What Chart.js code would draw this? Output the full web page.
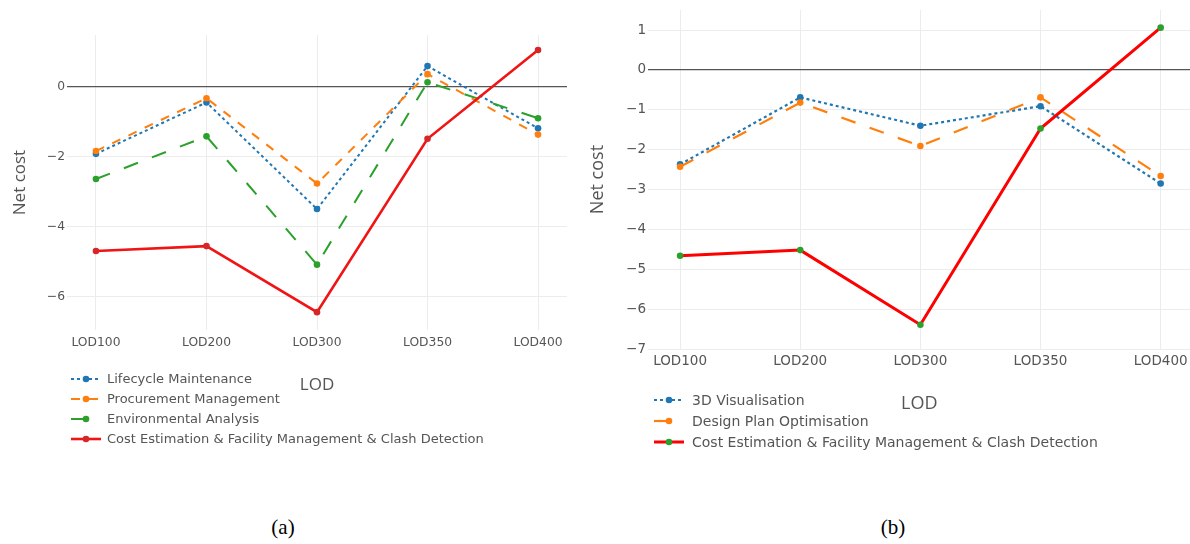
<!DOCTYPE html>
<html>
<head>
<meta charset="utf-8">
<script src="https://cdn.jsdelivr.net/npm/chart.js@4/dist/chart.umd.min.js"></script>
<style>
  html, body { margin: 0; padding: 0; background: #fff; overflow: hidden; }
  body { width: 1190px; height: 544px; position: relative; }
  .panel { position: absolute; top: 0; }
  .legend { position: absolute; font-family: 'DejaVu Sans', Verdana, sans-serif; color: #555; }
  .legend .item { position: absolute; left: 0; white-space: nowrap; display: flex; align-items: center; }
  .legend svg { display: block; }
  .caption { position: absolute; top: 515px; font-family: 'Liberation Serif', 'Times New Roman', serif; font-size: 21px; color: #000; transform: translateX(-50%); }
</style>
</head>
<body>
<canvas id="chartA" class="panel" style="left:0px" width="590" height="470"></canvas>
<canvas id="chartB" class="panel" style="left:580px" width="614" height="470"></canvas>
<div id="legendA" class="legend" style="left:71px; top:369px; font-size:13px;"></div>
<div id="legendB" class="legend" style="left:654px; top:390px; font-size:14px;"></div>
<div class="caption" style="left:283px">(a)</div>
<div class="caption" style="left:893px">(b)</div>
<script>
// Levels of development along the x axis
const categories = ['LOD100', 'LOD200', 'LOD300', 'LOD350', 'LOD400'];

// Tick values for the net-cost axes
const yTicksA = [-6, -4, -2, 0];
const yTicksB = [-7, -6, -5, -4, -3, -2, -1, 0, 1];

// Panel (a): net cost per use case
const lifecycleA     = [-1.91, -0.44, -3.49, 0.60, -1.18];
const procurementA   = [-1.83, -0.32, -2.76, 0.37, -1.36];
const environmentalA = [-2.63, -1.41, -5.08, 0.14, -0.89];
const costFacilityA  = [-4.69, -4.55, -6.44, -1.48, 1.06];

// Panel (b): net cost per use case
const visualisationB = [-2.37, -0.69, -1.40, -0.91, -2.85];
const designPlanB    = [-2.43, -0.82, -1.91, -0.69, -2.66];
const costFacilityB  = [-4.66, -4.52, -6.39, -1.47, 1.06];

const BLUE = '#1f77b4', ORANGE = '#ff7f0e', GREEN = '#2ca02c', RED = '#f01414', DARKRED = '#d62728';
const TITLE_FONT = "'Open Sans', sans-serif";
const TICK_FONT = "'DejaVu Sans', Verdana, sans-serif";
const TEXT = '#555';

function fmt(v) {
  return v < 0 ? '\u2212' + Math.abs(v) : String(v);
}

function series(label, values, color, dash, width, markerColor) {
  return {
    label,
    data: values.map((v, i) => ({ x: i, y: v })),
    borderColor: color,
    borderWidth: width,
    borderDash: dash,
    pointRadius: 3.3,
    pointBackgroundColor: markerColor || color,
    pointBorderWidth: 0,
    pointHoverRadius: 3.3,
    tension: 0,
    fill: false
  };
}

function makeChart(canvasId, datasets, cfg) {
  // later series are painted on top
  datasets.forEach((d, i) => { d.order = datasets.length - i; });
  return new Chart(document.getElementById(canvasId), {
    type: 'line',
    data: { datasets },
    options: {
      responsive: false,
      animation: false,
      devicePixelRatio: 1,
      layout: { padding: { top: cfg.padTop, right: cfg.padRight, left: 0, bottom: 0 } },
      plugins: { legend: { display: false }, tooltip: { enabled: false } },
      scales: {
        x: {
          type: 'linear',
          min: cfg.xMin,
          max: cfg.xMax,
          afterBuildTicks: s => { s.ticks = categories.map((c, i) => ({ value: i })); },
          afterFit: s => { s.height = cfg.xAxisHeight; s.paddingLeft = 0; s.paddingRight = 0; },
          ticks: {
            autoSkip: false,
            maxRotation: 0,
            padding: cfg.xTickPad,
            color: TEXT,
            font: { family: TICK_FONT, size: cfg.tickSize },
            callback: v => categories[v]
          },
          grid: { color: '#ececec', lineWidth: 1, drawTicks: false },
          border: { display: false },
          title: {
            display: true,
            text: 'LOD',
            color: TEXT,
            font: { family: TITLE_FONT, size: cfg.titleSize },
            padding: { top: 0, bottom: cfg.xTitlePadBottom }
          }
        },
        y: {
          min: cfg.yMin,
          max: cfg.yMax,
          afterBuildTicks: s => { s.ticks = cfg.yTicks.map(v => ({ value: v })); },
          afterFit: s => { s.width = cfg.yAxisWidth; },
          ticks: {
            padding: 2,
            color: TEXT,
            font: { family: TICK_FONT, size: cfg.tickSize },
            callback: v => fmt(v)
          },
          grid: {
            color: ctx => (ctx.tick && ctx.tick.value === 0) ? '#555' : '#ececec',
            lineWidth: ctx => (ctx.tick && ctx.tick.value === 0) ? 1.2 : 1,
            drawTicks: false
          },
          border: { display: false },
          title: {
            display: true,
            text: 'Net cost',
            color: TEXT,
            font: { family: TITLE_FONT, size: cfg.titleSize },
            padding: { top: cfg.yTitlePadTop, bottom: 0 }
          }
        }
      }
    }
  });
}

// One legend row per series: a short line sample in the series style, a marker, the name
function buildLegend(elId, datasets, rowGap, symbolW, textGap) {
  const el = document.getElementById(elId);
  const ns = 'http://www.w3.org/2000/svg';
  datasets.forEach((d, i) => {
    const item = document.createElement('div');
    item.className = 'item';
    item.style.top = (i * rowGap) + 'px';
    const svg = document.createElementNS(ns, 'svg');
    svg.setAttribute('width', symbolW);
    svg.setAttribute('height', 20);
    const line = document.createElementNS(ns, 'line');
    line.setAttribute('x1', 0); line.setAttribute('x2', symbolW);
    line.setAttribute('y1', 10); line.setAttribute('y2', 10);
    line.setAttribute('stroke', d.borderColor);
    line.setAttribute('stroke-width', d.borderWidth);
    if (d.borderDash && d.borderDash.length) line.setAttribute('stroke-dasharray', d.borderDash.join(','));
    svg.appendChild(line);
    const dot = document.createElementNS(ns, 'circle');
    dot.setAttribute('cx', symbolW / 2); dot.setAttribute('cy', 10); dot.setAttribute('r', 3.3);
    dot.setAttribute('fill', d.pointBackgroundColor);
    svg.appendChild(dot);
    item.appendChild(svg);
    const span = document.createElement('span');
    span.textContent = d.label;
    span.style.marginLeft = textGap + 'px';
    span.style.lineHeight = '20px';
    item.appendChild(span);
    el.appendChild(item);
  });
}

const dsA = [
  series('Lifecycle Maintenance', lifecycleA, BLUE, [3, 3], 2),
  series('Procurement Management', procurementA, ORANGE, [9, 9], 2),
  series('Environmental Analysis', environmentalA, GREEN, [15, 15], 2),
  series('Cost Estimation & Facility Management & Clash Detection', costFacilityA, RED, [], 2.6, DARKRED)
];
const dsB = [
  series('3D Visualisation', visualisationB, BLUE, [3, 3], 2.2),
  series('Design Plan Optimisation', designPlanB, ORANGE, [15, 15], 2.2),
  series('Cost Estimation & Facility Management & Clash Detection', costFacilityB, '#ff0000', [], 3, GREEN)
];

makeChart('chartA', dsA, {
  padTop: 35, padRight: 23, yAxisWidth: 67, xAxisHeight: 140,
  xMin: -0.262, xMax: 4.262, yMin: -6.95, yMax: 1.49, yTicks: yTicksA,
  tickSize: 12.3, titleSize: 17, xTickPad: 5, xTitlePadBottom: 75, yTitlePadTop: 10
});
makeChart('chartB', dsB, {
  padTop: 10, padRight: 0, yAxisWidth: 68, xAxisHeight: 121,
  xMin: -0.267, xMax: 4.25, yMin: -7, yMax: 1.5, yTicks: yTicksB,
  tickSize: 13.5, titleSize: 18, xTickPad: 4, xTitlePadBottom: 55, yTitlePadTop: 7
});

buildLegend('legendA', dsA, 20, 30, 6);
buildLegend('legendB', dsB, 21, 30, 8);
</script>
</body>
</html>
